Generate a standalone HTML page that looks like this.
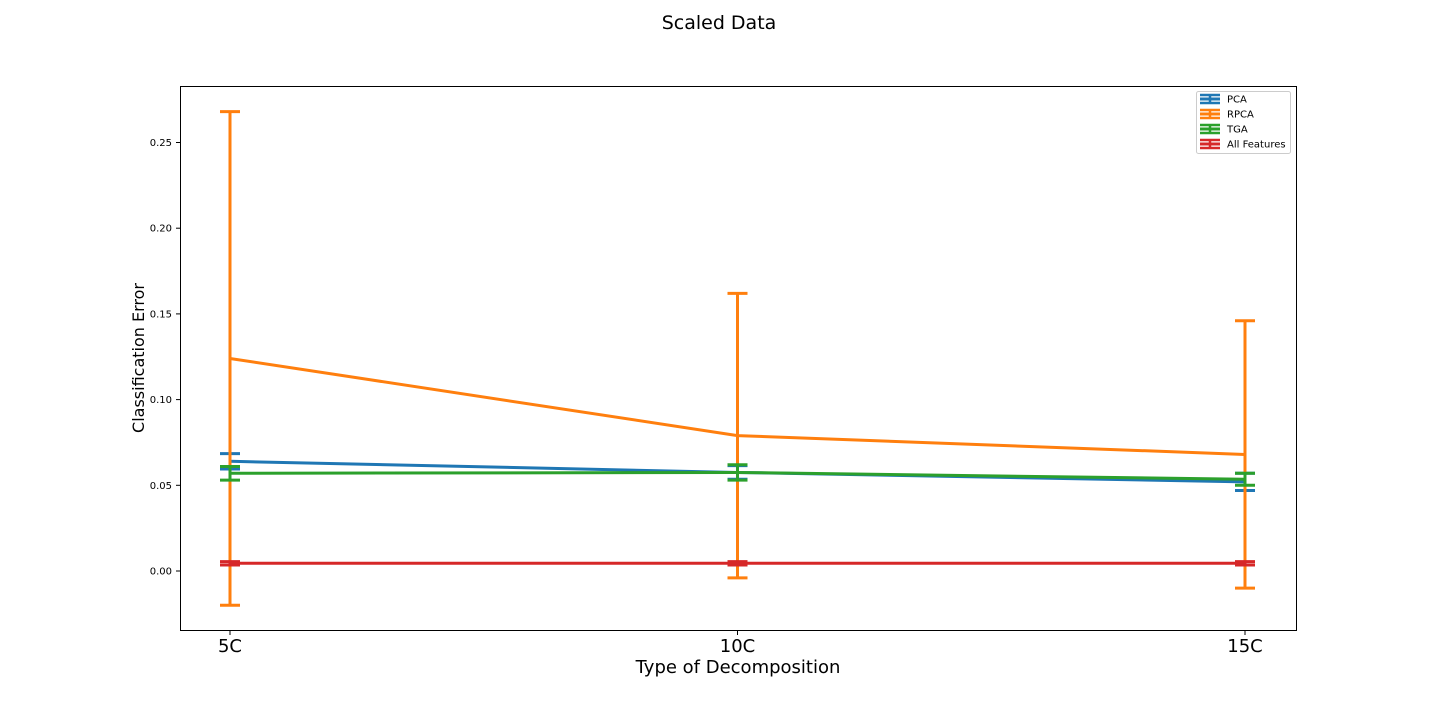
<!DOCTYPE html>
<html><head><meta charset="utf-8"><style>
body{margin:0;background:#fff;font-family:"DejaVu Sans","Liberation Sans",sans-serif;}
svg{display:block}
</style></head><body>
<svg id="chart" width="1440" height="720">
<text x="719" y="29" font-size="19" text-anchor="middle">Scaled Data</text>
<rect x="180.5" y="86.5" width="1116" height="544" fill="none" stroke="#000" stroke-width="1"/>
<g id="yaxis"></g><g id="xaxis"></g><g id="series"></g>
<text x="738" y="673" font-size="18" text-anchor="middle">Type of Decomposition</text>
<text transform="translate(144,358) rotate(-90)" font-size="16" text-anchor="middle">Classification Error</text>
<g id="legend">
<rect x="1196.5" y="91.5" width="94" height="62" rx="2" fill="#fff" stroke="#ccc"/>
</g>
</svg>
<script>
const categories=["5C","10C","15C"];
const seriesNames=["PCA","RPCA","TGA","All Features"];
const colors=["#1f77b4","#ff7f0e","#2ca02c","#d62728"];
const pcaMean=[0.064,0.0575,0.052];
const pcaErr=[0.0045,0.004,0.005];
const rpcaMean=[0.124,0.079,0.068];
const rpcaErr=[0.144,0.083,0.078];
const tgaMean=[0.057,0.0575,0.0535];
const tgaErr=[0.004,0.0045,0.0035];
const allMean=[0.0045,0.0045,0.0045];
const allErr=[0.001,0.001,0.001];
const yTicks=[0,0.05,0.1,0.15,0.2,0.25];
const yTickLabels=["0.00","0.05","0.10","0.15","0.20","0.25"];
const means=[pcaMean,rpcaMean,tgaMean,allMean];
const errs=[pcaErr,rpcaErr,tgaErr,allErr];
const NS="http://www.w3.org/2000/svg";
const y=v=>571-v*1714;
const x=i=>230+i*507.5;
function mk(tag,attrs,parent){const e=document.createElementNS(NS,tag);for(const k in attrs)e.setAttribute(k,attrs[k]);parent.appendChild(e);return e;}
const ya=document.getElementById('yaxis');
yTicks.forEach((t,i)=>{
  const l=mk('line',{x1:176,x2:180,y1:y(t),y2:y(t),stroke:'#000'},ya);
  
  
  const tx=mk('text',{x:172,y:y(t)+3.5,'font-size':10,'text-anchor':'end'},ya);
  tx.textContent=yTickLabels[i];
  
  
});
const xa=document.getElementById('xaxis');
categories.forEach((c,i)=>{
  const l=mk('line',{x1:x(i),x2:x(i),y1:631,y2:635,stroke:'#000'},xa);
  
  
  const tx=mk('text',{x:x(i),y:652,'font-size':18,'text-anchor':'middle'},xa);
  tx.textContent=c;
  
  
});
const sg=document.getElementById('series');
means.forEach((m,s)=>{
  const g=mk('g',{},sg);
  
  
  m.forEach((v,i)=>{
    const e=errs[s][i];
    const bar=mk('line',{x1:x(i),x2:x(i),y1:y(v-e),y2:y(v+e),stroke:colors[s],'stroke-width':3},g);
    
    
    [v-e,v+e].forEach(b=>{
      const cap=mk('line',{x1:x(i)-10,x2:x(i)+10,y1:y(b),y2:y(b),stroke:colors[s],'stroke-width':3},g);
      
      
    });
  });
  const pl=mk('polyline',{points:m.map((v,i)=>x(i)+','+y(v)).join(' '),fill:'none',stroke:colors[s],'stroke-width':3},g);
  
  
});
const lg=document.getElementById('legend');
seriesNames.forEach((n,i)=>{
  const cy=99+i*15;
  const h=mk('g',{},lg);
  
  
  mk('line',{x1:1200,x2:1220,y1:cy,y2:cy,stroke:colors[i],'stroke-width':3},h);
  mk('line',{x1:1200,x2:1220,y1:cy-4,y2:cy-4,stroke:colors[i],'stroke-width':2.5},h);
  mk('line',{x1:1200,x2:1220,y1:cy+4,y2:cy+4,stroke:colors[i],'stroke-width':2.5},h);
  mk('line',{x1:1210,x2:1210,y1:cy-4,y2:cy+4,stroke:colors[i],'stroke-width':2.5},h);
  const t=mk('text',{x:1227,y:cy+3.5,'font-size':10},h);
  t.textContent=n;
});
</script>
</body></html>
